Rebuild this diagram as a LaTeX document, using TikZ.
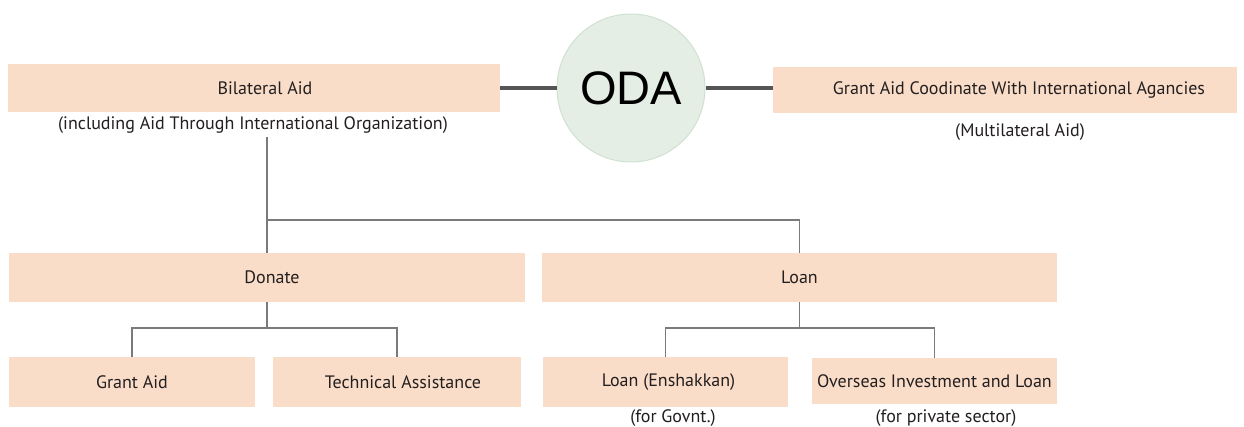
\documentclass[tikz,border=0pt]{standalone}
\usepackage{fontspec}
\setmainfont{PT Sans}
\newfontfamily\odafont{Liberation Sans}
\definecolor{peach}{HTML}{FADDC8}
\definecolor{odafill}{HTML}{E4EEE4}
\definecolor{odaline}{HTML}{D2E0D2}
\definecolor{linkgray}{HTML}{7A7A7A}
\definecolor{darkline}{HTML}{555555}
\definecolor{txt}{HTML}{231F20}
\tikzset{
  box/.style={rectangle, fill=peach, draw=none, inner sep=0pt, text=txt,
              font=\fontsize{18}{20}\selectfont},
  sub/.style={inner sep=0pt, text=txt, font=\fontsize{18}{20}\selectfont},
  link/.style={draw=linkgray, line width=1.6pt},
  odalink/.style={draw=darkline, line width=3.2pt},
}
\begin{document}
\begin{tikzpicture}[x=1pt,y=-1pt]
\useasboundingbox[fill=white] (0,0) rectangle (1244,427);
% top row
\node[box, minimum width=492pt, minimum height=48pt] (bil) at (254,88) {\hspace*{22pt}Bilateral Aid};
\node[sub] (bilsub) at (253,125) {(including Aid Through International Organization)};
\node[circle, fill=odafill, draw=odaline, line width=1pt, minimum size=148pt, inner sep=0pt,
      font=\odafont\fontsize{47}{50}\selectfont, text=black] (oda) at (631,88) {ODA};
\node[box, minimum width=464pt, minimum height=46pt] (multi) at (1005,90) {\hspace*{28pt}Grant Aid Coodinate With International Agancies};
\node[sub] (multisub) at (1020,132) {(Multilateral Aid)};
\draw[odalink] (bil.east |- oda.center) -- (oda.west);
\draw[odalink] (oda.east) -- (multi.west |- oda.center);
% middle row
\node[box, minimum width=516pt, minimum height=49pt] (don) at (267,277.5) {\hspace*{10pt}Donate};
\node[box, minimum width=515pt, minimum height=49pt] (loan) at (799.5,277.5) {Loan};
\coordinate (split) at (267,220);
\draw[link] (don.north |- 0,137) -- (don.north);
\draw[link] (split) -| (loan.north);
% bottom row
\node[box, minimum width=246pt, minimum height=50pt] (ga) at (132,382) {Grant Aid};
\node[box, minimum width=248pt, minimum height=50pt] (ta) at (397,382) {\hspace*{12pt}Technical Assistance};
\node[box, minimum width=245pt, minimum height=50pt] (le) at (665.5,382) {\hspace*{6pt}Loan (Enshakkan)};
\node[box, minimum width=245pt, minimum height=46pt] (oil) at (934.5,381) {Overseas Investment and Loan};
\node[sub] (lesub) at (673,418) {(for Govnt.)};
\node[sub] (oilsub) at (946,418) {(for private sector)};
\coordinate (dsplit) at (267,328);
\coordinate (lsplit) at (799.5,328);
\draw[link] (don.south) -- (dsplit);
\draw[link] (ga.north) |- (dsplit) -| (ta.north);
\draw[link] (loan.south) -- (lsplit);
\draw[link] (le.north) |- (lsplit) -| (oil.north);
\end{tikzpicture}
\end{document}
